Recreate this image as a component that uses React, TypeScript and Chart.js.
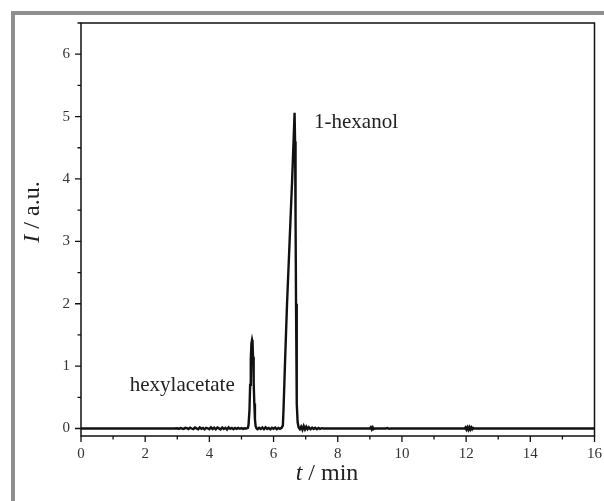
import React, { useEffect, useRef } from "react";
import { Chart, registerables } from "chart.js";

Chart.register(...registerables);

// Retention time (min)
const times: number[] = [
  0, 2.9,
  3.0, 3.05, 3.1, 3.15, 3.2, 3.25, 3.3, 3.35, 3.4, 3.45, 3.5, 3.55, 3.6, 3.65, 3.7, 3.75, 3.8, 3.85, 3.9, 3.95,
  4.0, 4.05, 4.1, 4.15, 4.2, 4.25, 4.3, 4.35, 4.4, 4.45, 4.5, 4.55, 4.6, 4.65, 4.7, 4.75, 4.8, 4.85, 4.9, 4.95,
  5.0, 5.05, 5.1, 5.15, 5.2,
  5.22, 5.25, 5.27, 5.29, 5.31, 5.33, 5.345, 5.36, 5.38, 5.4, 5.42, 5.44, 5.47,
  5.5, 5.55, 5.6, 5.65, 5.7, 5.75, 5.8, 5.85, 5.9, 5.95, 6.0, 6.05, 6.1, 6.15, 6.2, 6.25,
  6.29, 6.31, 6.36, 6.42, 6.5, 6.58, 6.63, 6.655, 6.67, 6.685, 6.7, 6.715, 6.73, 6.75, 6.78,
  6.82, 6.86, 6.9, 6.94, 6.98, 7.02, 7.06, 7.1, 7.15, 7.2, 7.25, 7.3, 7.35, 7.4, 7.45, 7.5, 7.55,
  9.0, 9.03, 9.06, 9.09, 9.12, 9.15, 9.5, 9.55, 9.6, 9.65,
  11.95, 11.98, 12.01, 12.04, 12.07, 12.1, 12.13, 12.16, 12.19, 12.22, 12.25,
  16,
];

// Detector intensity (a.u.)
const intensity: number[] = [
  0, 0,
  0.005, -0.005, 0.008, 0, -0.006, 0.01, 0.004, -0.008, 0.012, 0, -0.01, 0.015, 0.002, -0.012, 0.018, -0.004, 0.01, -0.014, 0.012, 0.004,
  -0.01, 0.02, -0.008, 0.014, -0.012, 0.016, 0.002, -0.014, 0.018, -0.006, 0.012, -0.016, 0.02, -0.004, 0.01, -0.012, 0.008, -0.006, 0.01, -0.004,
  0.006, -0.006, 0.004, 0, 0.01,
  0.06, 0.3, 0.7, 1.1, 1.36, 1.42, 1.38, 1.15, 0.75, 0.4, 0.15, 0.04, 0,
  -0.01, 0.012, -0.008, 0.016, -0.012, 0.02, -0.006, 0.01, -0.014, 0.012, -0.004, 0.014, -0.01, 0.008, -0.006, 0.01,
  0.05, 0.3, 1.1, 2.0, 3.0, 4.0, 4.7, 5.06, 4.6, 3.4, 2.0, 1.0, 0.4, 0.1, 0.02,
  -0.01, 0.03, -0.02, 0.04, -0.015, 0.03, -0.01, 0.02, -0.012, 0.015, -0.008, 0.012, -0.01, 0.01, -0.006, 0.006, 0,
  0, 0.02, -0.015, 0.018, -0.01, 0, 0, 0.008, -0.005, 0,
  0, 0.018, -0.016, 0.02, -0.018, 0.022, -0.016, 0.018, -0.012, 0.01, 0,
  0,
];

const xMajorTicks: number[] = [0, 2, 4, 6, 8, 10, 12, 14, 16];
const xMinorTicks: number[] = [1, 3, 5, 7, 9, 11, 13, 15];
const yMajorTicks: number[] = [0, 1, 2, 3, 4, 5, 6];
const yMinorTicks: number[] = [0.5, 1.5, 2.5, 3.5, 4.5, 5.5, 6.5];

const peakLabels: string[] = ["hexylacetate", "1-hexanol"];
const peakLabelT: number[] = [1.52, 7.26];
const peakLabelI: number[] = [0.6, 4.82];

const SERIF = "'Liberation Serif', 'Times New Roman', serif";

const decorPlugin = {
  id: "decor",
  beforeDraw(chart: any) {
    const ctx = chart.ctx;
    ctx.save();
    ctx.fillStyle = "#8e8e8e";
    ctx.fillRect(11, 11, chart.width, 4);
    ctx.fillRect(11, 11, 4, chart.height);
    ctx.restore();
  },
  afterDraw(chart: any) {
    const ctx = chart.ctx;
    const { left, right, top, bottom } = chart.chartArea;
    const xs = chart.scales.x;
    const ys = chart.scales.y;
    ctx.save();
    ctx.strokeStyle = "#111";
    ctx.lineWidth = 1.5;
    ctx.strokeRect(left, top, right - left, bottom - top);
    ctx.lineWidth = 1.3;
    ctx.beginPath();
    xMajorTicks.forEach((v) => {
      const p = xs.getPixelForValue(v);
      ctx.moveTo(p, bottom);
      ctx.lineTo(p, bottom + 6);
    });
    xMinorTicks.forEach((v) => {
      const p = xs.getPixelForValue(v);
      ctx.moveTo(p, bottom);
      ctx.lineTo(p, bottom + 3.5);
    });
    yMajorTicks.forEach((v) => {
      const p = ys.getPixelForValue(v);
      ctx.moveTo(left, p);
      ctx.lineTo(left - 6, p);
    });
    yMinorTicks.forEach((v) => {
      const p = ys.getPixelForValue(v);
      ctx.moveTo(left, p);
      ctx.lineTo(left - 3.5, p);
    });
    ctx.stroke();

    // peak labels
    ctx.fillStyle = "#222";
    ctx.font = `21px ${SERIF}`;
    ctx.textBaseline = "alphabetic";
    ctx.textAlign = "left";
    peakLabels.forEach((s, i) => {
      ctx.fillText(s, xs.getPixelForValue(peakLabelT[i]), ys.getPixelForValue(peakLabelI[i]));
    });

    // axis titles with italic symbols
    const drawMixed = (parts: [string, boolean][], cx: number, cy: number, rot: number) => {
      ctx.save();
      ctx.translate(cx, cy);
      ctx.rotate(rot);
      ctx.textBaseline = "middle";
      ctx.textAlign = "left";
      let total = 0;
      const widths = parts.map(([t, it]) => {
        ctx.font = `${it ? "italic " : ""}24px ${SERIF}`;
        const w = ctx.measureText(t).width;
        total += w;
        return w;
      });
      let x = -total / 2;
      parts.forEach(([t, it], i) => {
        ctx.font = `${it ? "italic " : ""}24px ${SERIF}`;
        ctx.fillText(t, x, 0);
        x += widths[i];
      });
      ctx.restore();
    };
    ctx.fillStyle = "#222";
    drawMixed([["t", true], [" / min", false]], 327, 474, 0);
    drawMixed([["I", true], [" / a.u.", false]], 33, 212, -Math.PI / 2);
    ctx.restore();
  },
};

export default function App() {
  const ref = useRef<HTMLCanvasElement>(null);
  useEffect(() => {
    if (!ref.current) return;
    const data = times.map((t, i) => ({ x: t, y: intensity[i] }));
    const chart = new Chart(ref.current, {
      type: "line",
      data: {
        datasets: [
          {
            data,
            borderColor: "#111",
            borderWidth: 2.4,
            pointRadius: 0,
            tension: 0,
            fill: false,
          },
        ],
      },
      options: {
        animation: false,
        responsive: false,
        events: [],
        layout: { padding: { top: 23, right: 7, left: 0, bottom: 0 } },
        plugins: { legend: { display: false }, tooltip: { enabled: false } },
        scales: {
          x: {
            type: "linear",
            min: 0,
            max: 16,
            grid: { display: true, drawOnChartArea: false, drawTicks: true, tickLength: 7, color: "rgba(0,0,0,0)" },
            border: { display: false },
            afterBuildTicks: (s: any) => {
              s.ticks = xMajorTicks.map((v) => ({ value: v }));
            },
            afterFit: (s: any) => {
              s.height = 65;
            },
            ticks: { color: "#333", font: { family: SERIF, size: 15 }, padding: 2, maxRotation: 0, autoSkip: false },
          },
          y: {
            min: -0.12,
            max: 6.5,
            grid: { display: true, drawOnChartArea: false, drawTicks: true, tickLength: 6, color: "rgba(0,0,0,0)" },
            border: { display: false },
            afterBuildTicks: (s: any) => {
              s.ticks = yMajorTicks.map((v) => ({ value: v }));
            },
            afterFit: (s: any) => {
              s.width = 81;
            },
            ticks: { color: "#333", font: { family: SERIF, size: 15 }, padding: 5, autoSkip: false },
          },
        },
      },
      plugins: [decorPlugin],
    });
    return () => chart.destroy();
  }, []);
  return (
    <div style={{ position: "fixed", left: 0, top: 0, width: 604, height: 501, background: "#fff" }}>
      <canvas ref={ref} width={604} height={501} style={{ width: 604, height: 501, display: "block" }} />
    </div>
  );
}
